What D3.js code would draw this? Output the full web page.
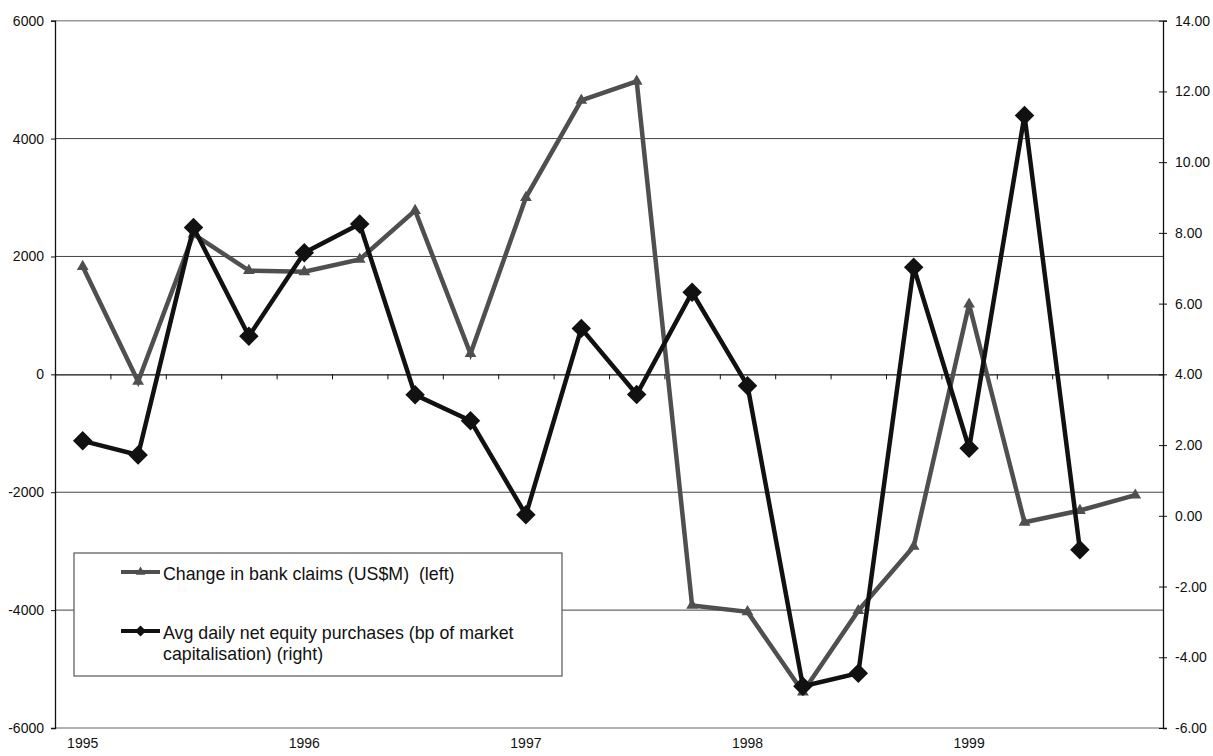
<!DOCTYPE html>
<html>
<head>
<meta charset="utf-8">
<script src="https://cdn.jsdelivr.net/npm/d3@7/dist/d3.min.js"></script>
<style>
  html, body { margin: 0; padding: 0; background: #fff; }
  svg { display: block; font-family: "Liberation Sans", Arial, sans-serif; }
</style>
</head>
<body>
<svg id="chart" width="1213" height="756"></svg>
<script>
// Quarterly observations, 1995 Q1 to 1999 Q4
const quarters = [
  "1995Q1","1995Q2","1995Q3","1995Q4",
  "1996Q1","1996Q2","1996Q3","1996Q4",
  "1997Q1","1997Q2","1997Q3","1997Q4",
  "1998Q1","1998Q2","1998Q3","1998Q4",
  "1999Q1","1999Q2","1999Q3","1999Q4"
];

// Change in bank claims, US$ millions (left axis)
const bankClaims = [
  1830, -120, 2380, 1760,
  1740, 1950, 2780, 350,
  3000, 4650, 4970, -3920,
  -4030, -5390, -4010, -2920,
  1190, -2510, -2310, -2050
];

// Average daily net equity purchases, bp of market capitalisation (right axis)
const equityPurchases = [
  2.12, 1.72, 8.15, 5.08,
  7.44, 8.25, 3.42, 2.69,
  0.03, 5.30, 3.43, 6.32,
  3.68, -4.82, -4.45, 7.03,
  1.91, 11.32, -0.96, null
];

const leftTicks = [-6000, -4000, -2000, 0, 2000, 4000, 6000];
const rightTicks = [-6, -4, -2, 0, 2, 4, 6, 8, 10, 12, 14];
const yearLabels = { "1995Q1": "1995", "1996Q1": "1996", "1997Q1": "1997", "1998Q1": "1998", "1999Q1": "1999" };

const seriesNames = [
  ["Change in bank claims (US$M)  (left)"],
  ["Avg daily net equity purchases (bp of market", "capitalisation) (right)"]
];

const svg = d3.select("#chart");
const m = { left: 55, right: 1163, top: 20.7, bottom: 728 };
const fontFam = "'Liberation Sans', Arial, sans-serif";
// plain hyphen for negatives
const hyph = f => v => f(v).replace("\u2212", "-");

const x = d3.scaleBand().domain(quarters).range([m.left, m.right]).padding(0);
const xIndex = d3.scaleLinear().domain([0, quarters.length]).range([m.left, m.right]);
const yL = d3.scaleLinear().domain([-6000, 6000]).range([m.bottom, m.top]);
const yR = d3.scaleLinear().domain([-6, 14]).range([m.bottom, m.top]);
const cx = q => x(q) + x.bandwidth() / 2;

// Horizontal gridlines
svg.append("g")
  .selectAll("line")
  .data(leftTicks.filter(v => v !== 0))
  .join("line")
  .attr("x1", m.left).attr("x2", m.right)
  .attr("y1", d => yL(d)).attr("y2", d => yL(d))
  .attr("stroke", d => Math.abs(d) === 6000 ? "#999" : "#444")
  .attr("stroke-width", d => Math.abs(d) === 6000 ? 1.6 : 1);

// Left axis
const gL = svg.append("g")
  .attr("transform", `translate(${m.left},0)`)
  .call(d3.axisLeft(yL).tickValues(leftTicks).tickSize(4).tickPadding(7).tickFormat(hyph(d3.format("d"))));
gL.select(".domain").attr("stroke", "#111").attr("stroke-width", 1.3);
gL.selectAll(".tick line").attr("stroke", "#111");
gL.selectAll("text").attr("font-size", 14).attr("fill", "#111").attr("font-family", fontFam);

// Right axis
const gR = svg.append("g")
  .attr("transform", `translate(${m.right},0)`)
  .call(d3.axisRight(yR).tickValues(rightTicks).tickSize(4).tickPadding(8).tickFormat(hyph(d3.format(".2f"))));
gR.select(".domain").attr("stroke", "#111").attr("stroke-width", 1.3);
gR.selectAll(".tick line").attr("stroke", "#111").attr("x1", -4);
gR.selectAll("text").attr("font-size", 14).attr("fill", "#111").attr("font-family", fontFam);

// Category axis crossing at zero, with ticks at quarter boundaries
const gZ = svg.append("g")
  .attr("transform", `translate(0,${yL(0)})`)
  .call(d3.axisBottom(xIndex).tickValues(d3.range(1, quarters.length)).tickSize(5).tickFormat(""));
gZ.select(".domain").attr("stroke", "#111").attr("stroke-width", 1.2);
gZ.selectAll(".tick line").attr("stroke", "#111");

// Year labels along the bottom
const gX = svg.append("g")
  .attr("transform", `translate(0,${m.bottom})`)
  .call(d3.axisBottom(x).tickSize(0).tickPadding(10).tickFormat(q => yearLabels[q] || ""));
gX.select(".domain").remove();
gX.selectAll("text").attr("font-size", 14).attr("fill", "#111").attr("font-family", fontFam);

// Bank claims line with triangle markers
const grey = "#4f4f4f";
const black = "#111";
const lineL = d3.line().x((d, i) => cx(quarters[i])).y(d => yL(d));
svg.append("path")
  .datum(bankClaims)
  .attr("d", lineL)
  .attr("fill", "none").attr("stroke", grey).attr("stroke-width", 4.5)
  .attr("stroke-linejoin", "miter");
const tri = d3.symbol().type(d3.symbolTriangle).size(60);
svg.append("g").selectAll("path")
  .data(bankClaims)
  .join("path")
  .attr("d", tri)
  .attr("transform", (d, i) => `translate(${cx(quarters[i])},${yL(d)})`)
  .attr("fill", grey);

// Equity purchases line with diamond markers
const eqPts = equityPurchases.map((v, i) => ({ q: quarters[i], v })).filter(d => d.v !== null);
const lineR = d3.line().x(d => cx(d.q)).y(d => yR(d.v));
svg.append("path")
  .datum(eqPts)
  .attr("d", lineR)
  .attr("fill", "none").attr("stroke", black).attr("stroke-width", 4.5)
  .attr("stroke-linejoin", "miter");
const diamond = d3.symbol().type(d3.symbolSquare).size(190);
svg.append("g").selectAll("path")
  .data(eqPts)
  .join("path")
  .attr("d", diamond)
  .attr("transform", d => `translate(${cx(d.q)},${yR(d.v)}) rotate(45)`)
  .attr("fill", black);

// Legend
const lg = svg.append("g");
lg.append("rect")
  .attr("x", 74).attr("y", 553).attr("width", 488).attr("height", 123)
  .attr("fill", "#fff").attr("stroke", "#555").attr("stroke-width", 1.2);

const legendRows = [
  { y: 572, color: grey, sym: d3.symbol().type(d3.symbolTriangle).size(40), rot: 0, lines: seriesNames[0] },
  { y: 631, color: black, sym: d3.symbol().type(d3.symbolSquare).size(60), rot: 45, lines: seriesNames[1] }
];
legendRows.forEach(r => {
  lg.append("line").attr("x1", 121).attr("x2", 160).attr("y1", r.y).attr("y2", r.y)
    .attr("stroke", r.color).attr("stroke-width", 4);
  lg.append("path").attr("d", r.sym)
    .attr("transform", `translate(140.5,${r.y}) rotate(${r.rot})`)
    .attr("fill", r.color);
  const t = lg.append("text")
    .attr("x", 163).attr("y", r.y + 7.5)
    .attr("font-size", 17.8).attr("fill", "#111")
    .style("white-space", "pre");
  r.lines.forEach((s, k) => {
    t.append("tspan").attr("x", 163).attr("dy", k === 0 ? 0 : 21).text(s);
  });
});
</script>
</body>
</html>
